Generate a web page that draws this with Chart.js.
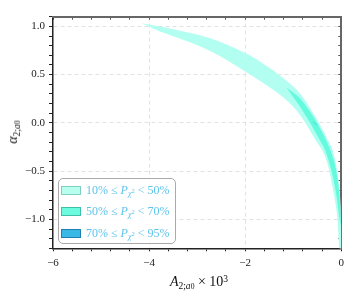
<!DOCTYPE html>
<html>
<head>
<meta charset="utf-8">
<script src="https://cdn.jsdelivr.net/npm/chart.js@4"></script>
<style>
  html, body { margin: 0; padding: 0; background: #fff; }
  #wrap { position: relative; width: 349px; height: 294px; font-family: "Liberation Serif", serif; }
  #wrap canvas { position: absolute; left: 0; top: 0; }
  .sub { font-size: 68%; vertical-align: -0.3em; line-height: 0; }
  .sup { font-size: 68%; vertical-align: 0.45em; line-height: 0; }
  #xtitle { position: absolute; left: 199px; top: 274px; transform: translateX(-50%); font-size: 14px; color: #111; white-space: nowrap; }
  #ytitle { position: absolute; left: 13px; top: 132px; transform: translate(-50%, -50%) rotate(-90deg); font-size: 14px; color: #111; white-space: nowrap; }
  #legend { position: absolute; left: 58px; top: 178px; width: 116px; height: 64px; border: 1px solid #aaa; border-radius: 5px; background: rgba(255,255,255,0.9); }
  .row { position: absolute; left: 2px; height: 14px; display: flex; align-items: center; white-space: nowrap; }
  .sw { width: 18px; height: 7px; border: 1px solid; margin-right: 5px; }
  .lt { font-size: 12px; color: #5ec4ec; }
</style>
</head>
<body>
<div id="wrap">
  <canvas id="chart" width="349" height="294"></canvas>
  <div id="xtitle"><i>A</i><span class="sub">2;<i>a</i><span style="font-size:80%">0</span></span> × 10<span class="sup">3</span></div>
  <div id="ytitle"><i>α</i><span class="sub">2;<i>a</i><span style="font-size:80%">0</span></span></div>
  <div id="legend"></div>
</div>
<script>
// 10% <= P < 50% region: upper-right edge and lower-left edge, both from the tip downwards
const outerUpperX = [-4.155, -3.451, -2.727, -1.988, -1.6, -1.209, -0.863, -0.518, -0.242, -0.180, -0.108, -0.050, -0.014, -0.008, 0.0, 0.0];
const outerUpperY = [1.031, 0.966, 0.876, 0.72, 0.605, 0.465, 0.307, 0.045, -0.213, -0.282, -0.437, -0.624, -0.851, -0.972, -1.058, -1.42];
const outerLowerX = [-3.762, -3.451, -2.727, -1.899, -1.209, -0.863, -0.518, -0.387, -0.284, -0.211, -0.139, -0.087, -0.046, -0.043];
const outerLowerY = [0.945, 0.89, 0.745, 0.50, 0.265, 0.085, -0.190, -0.293, -0.427, -0.592, -0.778, -0.955, -1.296, -1.42];

// 50% <= P < 70% region
const innerUpperX = [-1.139, -0.863, -0.588, -0.387, -0.242, -0.139, -0.066, -0.025, -0.010];
const innerUpperY = [0.364, 0.255, 0.069, -0.107, -0.262, -0.417, -0.624, -0.851, -1.058];
const innerLowerX = [-0.863, -0.656, -0.491, -0.346, -0.242, -0.159, -0.087, -0.035];
const innerLowerY = [0.173, 0.007, -0.138, -0.272, -0.427, -0.593, -0.799, -1.006];

// 70% <= P < 95% region (tiny sliver)
const coreX = [-0.60, -0.52, -0.50, -0.58];
const coreY = [0.02, -0.015, -0.03, 0.005];

const legendLow = [10, 50, 70];
const legendHigh = [50, 70, 95];
const fillColors = ["rgb(178,255,241)", "rgb(100,250,222)", "rgb(50,190,220)"];
const swatchFill = ["#b8fff0", "#6dfbe0", "#3ab8e6"];
const swatchEdge = ["#7fcfc0", "#3fbfa8", "#1f7fb0"];

const xMajor = [-6, -4, -2, 0];
const xTickLabels = ["−6", "−4", "−2", "0"];
const yMajor = [-1, -0.5, 0, 0.5, 1];
const yTickLabels = ["−1.0", "−0.5", "0.0", "0.5", "1.0"];

function polygon(ux, uy, lx, ly) {
  const pts = ux.map((x, i) => ({ x: x, y: uy[i] }));
  for (let i = lx.length - 1; i >= 0; i--) pts.push({ x: lx[i], y: ly[i] });
  return pts;
}

function near(v, list) {
  return list.some(m => Math.abs(m - v) < 1e-6);
}

function stepTicks(from, to, step) {
  const out = [];
  const n = Math.round((to - from) / step);
  for (let i = 0; i <= n; i++) out.push({ value: Math.round((from + i * step) * 1000) / 1000 });
  return out;
}

function buildLegend() {
  const box = document.getElementById("legend");
  const tops = [4, 25, 47];
  box.innerHTML = legendLow.map((lo, i) => `
    <div class="row" style="top:${tops[i]}px">
      <div class="sw" style="background:${swatchFill[i]};border-color:${swatchEdge[i]}"></div>
      <span class="lt">${lo}% ≤ <i>P</i><span class="sub"><i>χ</i><span style="font-size:80%;vertical-align:0.5em">2</span></span> &lt; ${legendHigh[i]}%</span>
    </div>`).join("");
}

// higher order is drawn first, so the outer band sits underneath
const bandStyle = (color, order) => ({
  showLine: true,
  fill: "shape",
  backgroundColor: color,
  borderWidth: 0,
  borderColor: color,
  pointRadius: 0,
  tension: 0.35,
  order: order
});

const hiddenAxis = (pos, min, max) => ({
  type: "linear",
  position: pos,
  min: min,
  max: max,
  z: 1,
  afterBuildTicks: s => { s.ticks = pos === "top" ? stepTicks(-6, 0, 0.4) : stepTicks(-1.3, 1.1, 0.1); },
  afterFit: s => { if (pos === "top") s.height = 0; else s.width = 0; },
  ticks: { display: false },
  grid: { drawOnChartArea: false, drawTicks: true, tickLength: -3, tickColor: "#555", tickWidth: 1 },
  border: { display: true, color: "#666", width: 2 }
});

function createChart() {
  const ctx = document.getElementById("chart");
  new Chart(ctx, {
    type: "scatter",
    data: {
      datasets: [
        Object.assign({ data: polygon(outerUpperX, outerUpperY, outerLowerX, outerLowerY) }, bandStyle(fillColors[0], 3)),
        Object.assign({ data: polygon(innerUpperX, innerUpperY, innerLowerX, innerLowerY) }, bandStyle(fillColors[1], 2)),
        Object.assign({ data: coreX.map((x, i) => ({ x: x, y: coreY[i] })) }, bandStyle(fillColors[2], 1))
      ]
    },
    options: {
      responsive: false,
      animation: false,
      devicePixelRatio: 1,
      layout: { padding: { top: 16.7, right: 7.3, left: 0, bottom: 0 } },
      plugins: { legend: { display: false }, tooltip: { enabled: false } },
      scales: {
        x: {
          type: "linear",
          position: "bottom",
          min: -6,
          max: 0,
          afterBuildTicks: s => { s.ticks = stepTicks(-6, 0, 0.4); },
          afterFit: s => { s.height = 45.7; },
          ticks: {
            autoSkip: false,
            maxRotation: 0,
            padding: 5,
            color: "#222",
            font: { family: "Liberation Serif", size: 11 },
            callback: v => near(v, xMajor) ? xTickLabels[xMajor.findIndex(m => Math.abs(m - v) < 1e-6)] : ""
          },
          grid: {
            color: c => (c.tick && near(c.tick.value, [-4, -2])) ? "#e2e2e2" : "rgba(0,0,0,0)",
            tickColor: "#222",
            tickLength: 3,
            lineWidth: 1
          },
          border: { display: true, color: "#222", width: 1.5, dash: [4, 3] }
        },
        y: {
          type: "linear",
          position: "left",
          min: -1.3,
          max: 1.1,
          afterBuildTicks: s => { s.ticks = stepTicks(-1.3, 1.1, 0.1); },
          afterFit: s => { s.width = 53; },
          ticks: {
            autoSkip: false,
            padding: 4,
            color: "#222",
            font: { family: "Liberation Serif", size: 11 },
            callback: v => near(v, yMajor) ? yTickLabels[yMajor.findIndex(m => Math.abs(m - v) < 1e-6)] : ""
          },
          grid: {
            color: c => (c.tick && near(c.tick.value, yMajor)) ? "#e2e2e2" : "rgba(0,0,0,0)",
            tickColor: "#222",
            tickLength: 4,
            lineWidth: 1
          },
          border: { display: true, color: "#222", width: 1.5, dash: [4, 3] }
        },
        x2: hiddenAxis("top", -6, 0),
        y2: hiddenAxis("right", -1.3, 1.1)
      }
    }
  });
}

document.addEventListener("DOMContentLoaded", () => {
  buildLegend();
  createChart();
});
</script>
</body>
</html>
